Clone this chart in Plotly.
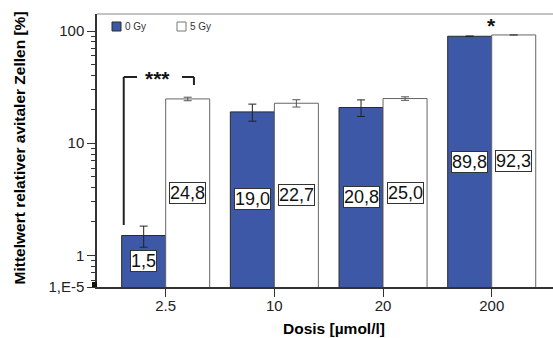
import math
import plotly.graph_objects as go

categories = ["2.5", "10", "20", "200"]
gy0_values = [1.5, 19.0, 20.8, 89.8]
gy5_values = [24.8, 22.7, 25.0, 92.3]
gy0_err = [0.32, 3.3, 3.5, 0.5]
gy5_err = [0.9, 1.7, 0.9, 0.5]
gy0_labels = ["1,5", "19,0", "20,8", "89,8"]
gy5_labels = ["24,8", "22,7", "25,0", "92,3"]
y_tick_vals_labels = ["1,E-5", "1", "10", "100"]
series_names = ["0 Gy", "5 Gy"]

BLUE = "#3E58A8"
FONT = "Liberation Sans, Arial, sans-serif"
L_MIN, L_MAX = -0.283, 2.152
Y_MIN = 10 ** L_MIN
BARGAP = 0.19

W, H = 553, 338
ML, MR, MT, MB = 97, 0, 14, 51
PW, PH = W - ML - MR, H - MT - MB


def px_x(x):
    return (x - ML) / PW


def px_y(y):
    return (H - MB - y) / PH


fig = go.Figure()
fig.add_trace(go.Bar(
    name=series_names[0], x=categories, y=gy0_values, showlegend=False,
    marker=dict(color=BLUE, line=dict(color="#2a2a2a", width=1)),
    error_y=dict(type="data", array=gy0_err, color="#222", thickness=1, width=4),
))
fig.add_trace(go.Bar(
    name=series_names[1], x=categories, y=gy5_values, showlegend=False,
    marker=dict(color="white", line=dict(color="#666", width=1)),
    error_y=dict(type="data", array=gy5_err, color="#555", thickness=1, width=4),
))

# value labels in boxes at the middle of each bar (pixel middle on log scale)
w = (1 - BARGAP) / 2
annotations = []
for i in range(len(categories)):
    for vals, labs, off in ((gy0_values, gy0_labels, -w / 2), (gy5_values, gy5_labels, w / 2)):
        annotations.append(dict(
            x=i + off, y=(L_MIN + math.log10(vals[i])) / 2, xref="x", yref="y",
            text=labs[i], showarrow=False, font=dict(family=FONT, size=18, color="#111"),
            bgcolor="white", bordercolor="#333", borderwidth=1, borderpad=0,
        ))

# significance marks
annotations.append(dict(x=-0.071, y=px_y(78), xref="x", yref="paper", text="<b>***</b>",
                        showarrow=False, font=dict(family=FONT, size=21, color="#111"),
                        yanchor="middle"))
annotations.append(dict(x=3, y=px_y(26), xref="x", yref="paper", text="<b>*</b>",
                        showarrow=False, font=dict(family=FONT, size=21, color="#111"),
                        yanchor="middle"))
# axis titles
annotations.append(dict(x=px_x(334), y=px_y(328), xref="paper", yref="paper",
                        xanchor="center", yanchor="middle",
                        text="<b>Dosis [µmol/l]</b>", showarrow=False,
                        font=dict(family=FONT, size=15.5, color="#000")))
annotations.append(dict(x=px_x(18.5), y=px_y(148), xref="paper", yref="paper",
                        xanchor="center", yanchor="middle", textangle=-90,
                        text="<b>Mittelwert relativer avitaler Zellen [%]</b>", showarrow=False,
                        font=dict(family=FONT, size=15.5, color="#000")))
# legend (manual, compact like the original)
legend_text_x = [123, 188]
for name, tx in zip(series_names, legend_text_x):
    annotations.append(dict(x=px_x(tx), y=px_y(26.5), xref="paper", yref="paper", text=name,
                            showarrow=False, xanchor="left", yanchor="middle",
                            font=dict(family=FONT, size=10, color="#333")))

shapes = []
line = dict(color="#222", width=2)
for x0, y0, x1, y1 in [(-0.386, 225, -0.386, 77), (-0.386, 77, -0.264, 77),
                       (0.15, 77, 0.26, 77), (0.26, 77, 0.26, 85)]:
    shapes.append(dict(type="line", xref="x", yref="paper", x0=x0, y0=px_y(y0), x1=x1,
                       y1=px_y(y1), line=line))
# top frame
shapes.append(dict(type="line", xref="paper", yref="paper", x0=0, x1=1, y0=1, y1=1,
                   line=dict(color="#888", width=1)))
# dense tick cluster at axis foot
shapes.append(dict(type="rect", xref="paper", yref="paper", x0=px_x(92), x1=0, y0=0,
                   y1=px_y(282), fillcolor="#111", line=dict(width=0)))
# legend swatches
for (x0, fill, lc) in [(112, BLUE, "#2a2a2a"), (177, "white", "#777")]:
    shapes.append(dict(type="rect", xref="paper", yref="paper", x0=px_x(x0), x1=px_x(x0 + 9),
                       y0=px_y(31), y1=px_y(22), fillcolor=fill, line=dict(color=lc, width=1)))

fig.update_layout(
    width=W, height=H,
    margin=dict(l=ML, r=MR, t=MT, b=MB, autoexpand=False),
    paper_bgcolor="white", plot_bgcolor="white",
    barmode="group", bargap=BARGAP, bargroupgap=0,
    font=dict(family=FONT, color="#222"),
    showlegend=False,
    xaxis=dict(type="category", range=[-0.632, 3.564], showline=True, linecolor="#333",
               linewidth=1.5, ticks="outside", ticklen=8, tickcolor="#333", automargin=False,
               ticklabelstandoff=-4,
               tickfont=dict(family=FONT, size=15, color="#222"), showgrid=False, zeroline=False),
    yaxis=dict(type="log", range=[L_MIN, L_MAX], showline=True, linecolor="#333", linewidth=1.5,
               ticks="outside", ticklen=8, tickcolor="#333", automargin=False,
               tickmode="array", tickvals=[Y_MIN, 1, 10, 100], ticktext=y_tick_vals_labels,
               tickfont=dict(family=FONT, size=15, color="#222"), showgrid=False, zeroline=False,
               minor=dict(ticks="outside", ticklen=4, tickcolor="#333", showgrid=False,
                          tickmode="array",
                          tickvals=[0.6, 0.7, 0.8, 0.9, 2, 3, 4, 5, 6, 7, 8, 9,
                                    20, 30, 40, 50, 60, 70, 80, 90])),
    annotations=annotations,
    shapes=shapes,
)
fig.write_html("out.html", config={"displayModeBar": False},
               post_script="document.body.style.margin='0px';")
